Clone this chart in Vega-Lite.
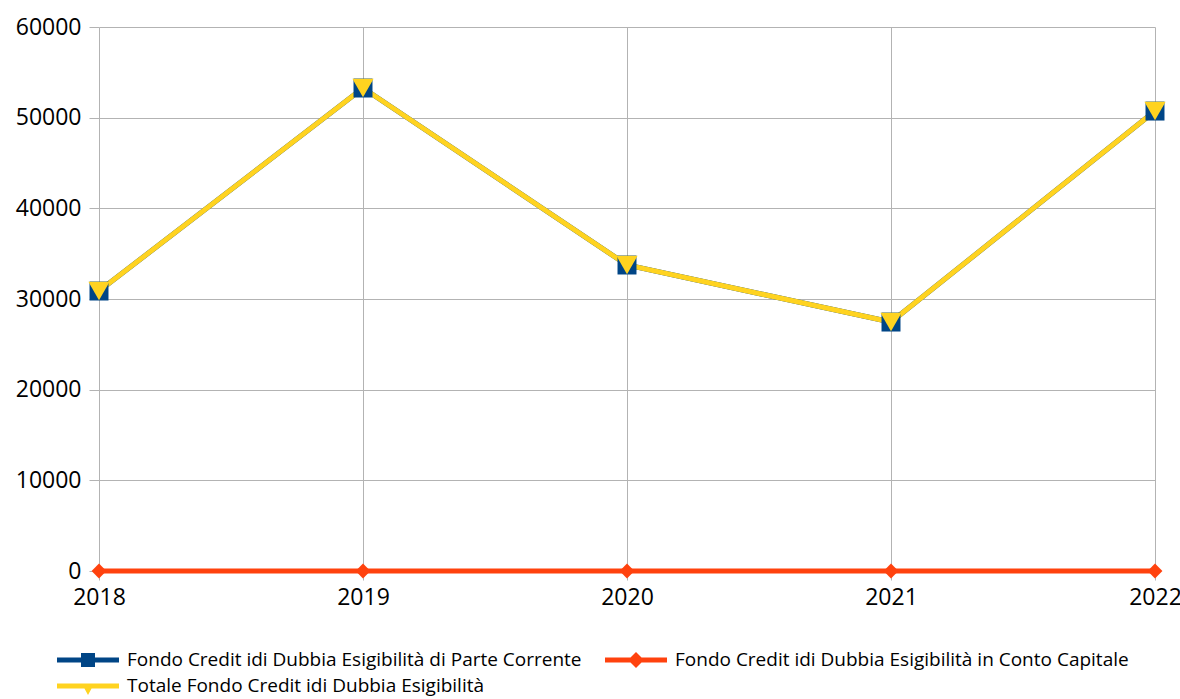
{
  "$schema": "https://vega.github.io/schema/vega-lite/v6.json",
  "width": 1056,
  "height": 544,
  "autosize": "none",
  "padding": {"left": 99, "top": 27, "right": 25, "bottom": 128},
  "background": "white",
  "config": {
    "view": {"stroke": null},
    "axis": {"labelFont": "Open Sans", "labelFontSize": 23, "labelColor": "#000000", "gridColor": "#b3b3b3", "gridWidth": 1, "tickColor": "#b3b3b3", "domain": false, "title": null}
  },
  "data": {
    "values": [
      {"year": "2018", "series": "Fondo Credit idi Dubbia Esigibilità di Parte Corrente", "value": 30880},
      {"year": "2019", "series": "Fondo Credit idi Dubbia Esigibilità di Parte Corrente", "value": 53270},
      {"year": "2020", "series": "Fondo Credit idi Dubbia Esigibilità di Parte Corrente", "value": 33750},
      {"year": "2021", "series": "Fondo Credit idi Dubbia Esigibilità di Parte Corrente", "value": 27460},
      {"year": "2022", "series": "Fondo Credit idi Dubbia Esigibilità di Parte Corrente", "value": 50730},
      {"year": "2018", "series": "Fondo Credit idi Dubbia Esigibilità in Conto Capitale", "value": 0},
      {"year": "2019", "series": "Fondo Credit idi Dubbia Esigibilità in Conto Capitale", "value": 0},
      {"year": "2020", "series": "Fondo Credit idi Dubbia Esigibilità in Conto Capitale", "value": 0},
      {"year": "2021", "series": "Fondo Credit idi Dubbia Esigibilità in Conto Capitale", "value": 0},
      {"year": "2022", "series": "Fondo Credit idi Dubbia Esigibilità in Conto Capitale", "value": 0},
      {"year": "2018", "series": "Totale Fondo Credit idi Dubbia Esigibilità", "value": 30880},
      {"year": "2019", "series": "Totale Fondo Credit idi Dubbia Esigibilità", "value": 53270},
      {"year": "2020", "series": "Totale Fondo Credit idi Dubbia Esigibilità", "value": 33750},
      {"year": "2021", "series": "Totale Fondo Credit idi Dubbia Esigibilità", "value": 27460},
      {"year": "2022", "series": "Totale Fondo Credit idi Dubbia Esigibilità", "value": 50730}
    ]
  },
  "encoding": {
    "x": {"field": "year", "type": "ordinal", "scale": {"type": "point", "padding": 0}, "axis": {"labelAngle": 0, "grid": true, "tickSize": 9, "labelPadding": 6}},
    "y": {"field": "value", "type": "quantitative", "scale": {"domain": [0, 60000]}, "axis": {"values": [0, 10000, 20000, 30000, 40000, 50000, 60000], "format": "d", "tickSize": 10, "labelPadding": 8}},
    "color": {
      "field": "series", "type": "nominal",
      "scale": {"domain": ["Fondo Credit idi Dubbia Esigibilità di Parte Corrente", "Fondo Credit idi Dubbia Esigibilità in Conto Capitale", "Totale Fondo Credit idi Dubbia Esigibilità"], "range": ["#004586", "#ff420e", "#ffd320"]},
      "legend": {
        "orient": "none", "legendX": -21, "legendY": 623, "direction": "horizontal", "columns": 2, "columnPadding": 23, "rowPadding": 6,
        "title": null, "labelFont": "Open Sans", "labelFontSize": 19, "labelColor": "#000000", "labelLimit": 800, "labelOffset": 29,
        "symbolSize": 400, "symbolStrokeWidth": 0, "padding": 0,
        "encode": {"symbols": {"update": {
          "shape": {"signal": "datum.value === 'Fondo Credit idi Dubbia Esigibilità di Parte Corrente' ? 'M-3.1,-0.25H3.1V0.25H-3.1Z M-0.7,-0.7H0.7V0.7H-0.7Z' : datum.value === 'Fondo Credit idi Dubbia Esigibilità in Conto Capitale' ? 'M-3.1,-0.25H3.1V0.25H-3.1Z M0,-0.8L0.8,0L0,0.8L-0.8,0Z' : 'M-3.1,-0.25H3.1V0.25H-3.1Z M-0.6,-0.2L0.6,-0.2L0,0.9Z'"},
          "fill": {"scale": "color", "field": "value"},
          "fillOpacity": {"value": 1},
          "strokeWidth": {"value": 0}
        }}}
      }
    }
  },
  "layer": [
    {"mark": {"type": "line", "strokeWidth": 5}},
    {
      "transform": [{"filter": "datum.series === 'Fondo Credit idi Dubbia Esigibilità di Parte Corrente'"}],
      "mark": {"type": "point", "filled": true, "opacity": 1, "shape": "square", "size": 360}
    },
    {
      "transform": [{"filter": "datum.series === 'Fondo Credit idi Dubbia Esigibilità in Conto Capitale'"}],
      "mark": {"type": "point", "filled": true, "opacity": 1, "shape": "diamond", "size": 220}
    },
    {
      "transform": [{"filter": "datum.series === 'Totale Fondo Credit idi Dubbia Esigibilità'"}],
      "mark": {"type": "point", "filled": true, "opacity": 1, "shape": "triangle-down", "size": 450}
    }
  ]
}
